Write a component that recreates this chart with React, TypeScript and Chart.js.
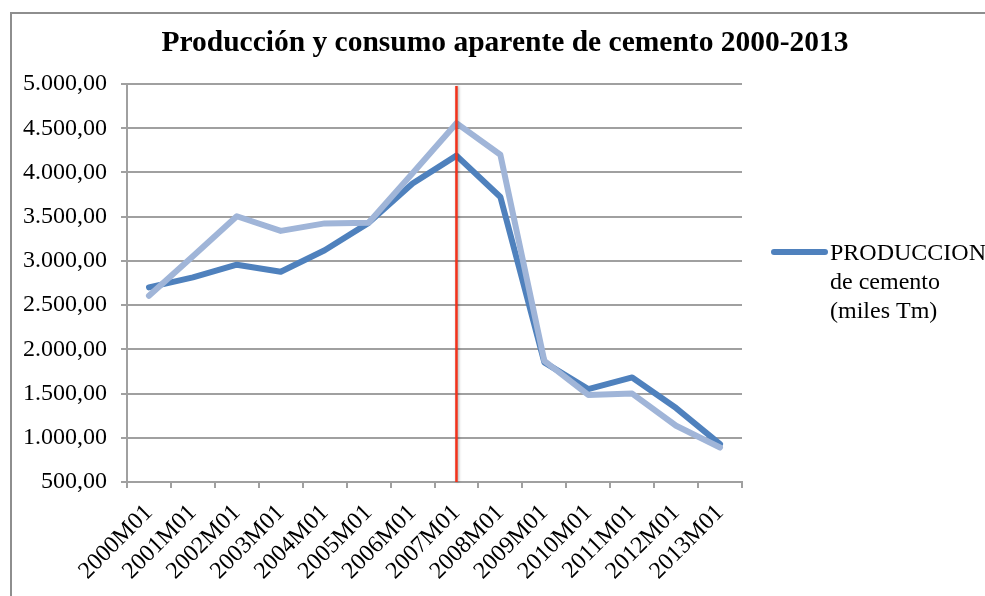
import React, { useEffect, useRef } from "react";
import { Chart, registerables } from "chart.js";

Chart.register(...registerables);

const categories = [
  "2000M01", "2001M01", "2002M01", "2003M01", "2004M01", "2005M01", "2006M01",
  "2007M01", "2008M01", "2009M01", "2010M01", "2011M01", "2012M01", "2013M01",
];
const produccion = [2700, 2813, 2957, 2877, 3121, 3430, 3874, 4190, 3722, 1853, 1550, 1682, 1336, 929];
const consumo = [2605, 3053, 3505, 3339, 3424, 3430, 3990, 4557, 4200, 1870, 1485, 1500, 1136, 890];
const yMin = 500;
const yMax = 5000;
const yStep = 500;
const titleText = "Producción y consumo aparente de cemento 2000-2013";
const legendLines = ["PRODUCCION", "de cemento", "(miles Tm)"];
const markerCategory = "2007M01";

const SERIF = '"Liberation Serif", "Times New Roman", serif';
const DARK = "#4f81bd";
const LIGHT = "#a0b5d8";
const GRID = "#a0a0a0";

function fmt(v: number): string {
  const [i, d] = v.toFixed(2).split(".");
  return i.replace(/\B(?=(\d{3})+(?!\d))/g, ".") + "," + d;
}

const framePlugin = {
  id: "frame",
  beforeDraw(chart: any) {
    const ctx = chart.ctx;
    ctx.save();
    ctx.fillStyle = "#ffffff";
    ctx.fillRect(0, 0, chart.width, chart.height);
    ctx.strokeStyle = "#8e8e8e";
    ctx.lineWidth = 2;
    ctx.strokeRect(11, 13, 1000, 700);
    ctx.fillStyle = "#000000";
    ctx.font = `bold 29.5px ${SERIF}`;
    ctx.textAlign = "center";
    ctx.textBaseline = "middle";
    ctx.fillText(titleText, 505, 43);
    ctx.restore();
  },
};

const markerPlugin = {
  id: "marker",
  afterDatasetsDraw(chart: any) {
    const ctx = chart.ctx;
    const x = chart.scales.x.getPixelForValue(categories.indexOf(markerCategory));
    const { top, bottom } = chart.chartArea;
    ctx.save();
    ctx.shadowColor = "rgba(0,0,0,0.35)";
    ctx.shadowBlur = 3;
    ctx.shadowOffsetX = 1;
    ctx.strokeStyle = "#f3321b";
    ctx.lineWidth = 2.5;
    ctx.beginPath();
    ctx.moveTo(x, top + 2);
    ctx.lineTo(x, bottom);
    ctx.stroke();
    ctx.restore();
  },
};

const legendPlugin = {
  id: "customLegend",
  afterDraw(chart: any) {
    const ctx = chart.ctx;
    ctx.save();
    ctx.strokeStyle = DARK;
    ctx.lineWidth = 6;
    ctx.lineCap = "round";
    ctx.beginPath();
    ctx.moveTo(774, 252);
    ctx.lineTo(825, 252);
    ctx.stroke();
    ctx.fillStyle = "#000000";
    ctx.font = `24px ${SERIF}`;
    ctx.textAlign = "left";
    ctx.textBaseline = "middle";
    legendLines.forEach((t, i) => ctx.fillText(t, 830, 254 + i * 29));
    ctx.restore();
  },
};

export default function App() {
  const ref = useRef<HTMLCanvasElement | null>(null);
  useEffect(() => {
    if (!ref.current) return;
    const chart = new Chart(ref.current, {
      type: "line",
      data: {
        labels: categories,
        datasets: [
          {
            label: "PRODUCCION de cemento (miles Tm)",
            data: produccion,
            borderColor: DARK,
            backgroundColor: DARK,
            borderWidth: 6,
            pointRadius: 0,
            tension: 0,
            borderJoinStyle: "round",
            borderCapStyle: "round",
            order: 1,
          },
          {
            label: "Consumo aparente de cemento",
            data: consumo,
            borderColor: LIGHT,
            backgroundColor: LIGHT,
            borderWidth: 6,
            pointRadius: 0,
            tension: 0,
            borderJoinStyle: "round",
            borderCapStyle: "round",
            order: 0,
          },
        ],
      },
      options: {
        responsive: false,
        animation: false,
        devicePixelRatio: 1,
        layout: { padding: { left: 10, top: 84, right: 243, bottom: 0 } },
        plugins: {
          legend: { display: false },
          title: { display: false },
          tooltip: { enabled: false },
        },
        scales: {
          x: {
            offset: true,
            grid: {
              offset: true,
              drawOnChartArea: false,
              drawTicks: true,
              tickLength: 6,
              color: GRID,
              lineWidth: 2,
            },
            border: { color: GRID, width: 2 },
            ticks: {
              autoSkip: false,
              maxRotation: 45,
              minRotation: 45,
              color: "#000000",
              font: { family: SERIF, size: 24 },
              padding: 11,
            },
            afterFit(scale: any) {
              scale.height = 114;
            },
          },
          y: {
            min: yMin,
            max: yMax,
            grid: { color: GRID, lineWidth: 2, tickLength: 6, drawTicks: true },
            border: { color: GRID, width: 2 },
            ticks: {
              stepSize: yStep,
              color: "#000000",
              font: { family: SERIF, size: 24 },
              padding: 14,
              callback: (v: any) => fmt(Number(v)),
            },
            afterFit(scale: any) {
              scale.width = 117;
            },
          },
        },
      },
      plugins: [framePlugin, markerPlugin, legendPlugin],
    });
    return () => chart.destroy();
  }, []);
  return (
    <div style={{ position: "absolute", left: 0, top: 0, width: 985, height: 596 }}>
      <canvas ref={ref} width={985} height={596} style={{ display: "block" }} />
    </div>
  );
}
